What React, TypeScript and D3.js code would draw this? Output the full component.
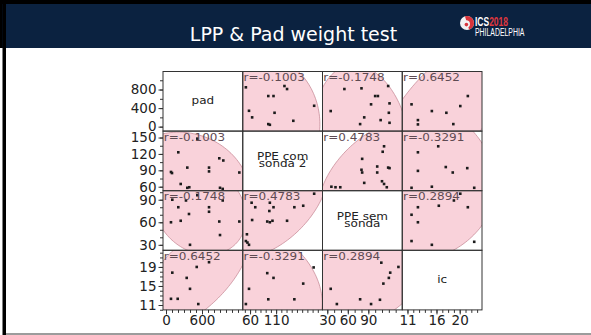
import React, { useEffect, useRef } from "react";
import * as d3 from "d3";

// variables of the scatter matrix (diagonal labels)
const diagLabels = [["pad"], ["PPE com", "sonda 2"], ["PPE sem", "sonda"], ["ic"]];

// axis extents per variable (columns use x, rows use y)
const xDomains = [[-50, 1279], [46, 199], [23, 139.6], [10.1, 23.84]];
const yDomains = [[-96, 1189], [52.7, 161.8], [22.7, 102], [9.97, 22.5]];

const xTickLabels = [[0, 600], [60, 110], [30, 60, 90], [11, 16, 20]];
const xMinorStep = [100, 10, 10, 1];
const yTickLabels = [[0, 400, 800], [60, 90, 120, 150], [30, 60, 90], [11, 15, 19]];
const yMinorStep = [200, 15, 10, 1];

// pearson r shown in the off-diagonal panels
const corr = [
  [null, -0.1003, -0.1748, 0.6452],
  [-0.1003, null, 0.4783, -0.3291],
  [-0.1748, 0.4783, null, 0.2894],
  [0.6452, -0.3291, 0.2894, null],
];

// points per panel, [x, y] in data units (row-col)
const pts12 = [[52, 848], [95, 660], [105, 660], [126, 876], [131, 811], [183, 450], [58, 342], [64, 200], [107, 299], [143, 126], [95, 55], [98, 40]];
const pts13 = [[55, 811], [80, 826], [119, 876], [100, 660], [104, 660], [94, 481], [121, 502], [35, 336], [120, 299], [84, 200], [108, 141], [78, 55], [121, 83]];
const pts14 = [[11.7, 481], [15.2, 336], [17.7, 299], [20.1, 444], [21.4, 660], [12.8, 141], [12.8, 48], [18.9, 55]];
const pts21 = [[205, 123], [83, 87], [100, 85], [355, 95], [522, 148], [717, 95], [717, 88], [888, 112], [955, 108], [245, 65], [355, 58], [388, 59], [900, 58], [945, 56], [1222, 86]];
const pts23 = [[113, 134], [111, 124], [81, 111], [103, 97], [119, 95], [121, 94], [80, 91], [81, 86], [103, 86], [84, 67], [110, 70], [113, 65], [117, 59], [36, 60], [42, 59], [49, 59]];
const pts24 = [[16.3, 134], [12.8, 123], [17.6, 96], [18.8, 86], [21.3, 94], [12.8, 89], [11.7, 58], [15.2, 60], [22.5, 58]];
const pts31 = [[105, 90], [205, 80], [333, 89], [522, 96], [717, 80], [717, 74], [945, 89], [383, 71], [83, 60], [245, 62], [888, 61], [1222, 61], [900, 43], [400, 30]];
const pts32 = [[183, 98], [63, 86], [70, 80], [98, 86], [105, 80], [97, 75], [145, 80], [162, 82], [64, 63], [93, 61], [98, 60], [103, 62], [131, 62], [54, 44], [52, 35], [55, 33], [58, 30]];
const pts34 = [[20.1, 98], [16.4, 82], [19, 89], [21.4, 80], [12.8, 80], [11.7, 70], [12.8, 60], [11.7, 35], [15.2, 30], [22.5, 34]];
const pts41 = [[105, 17.8], [345, 16.7], [400, 14.4], [512, 19], [717, 20], [83, 12.3], [195, 12.3], [538, 11.2]];
const pts42 = [[93, 17.7], [105, 16.7], [182, 18.9], [162, 15.5], [58, 14.4], [95, 12.2], [145, 12.2], [52, 11.2]];
const pts43 = [[109, 19.9], [134, 19], [122, 17.8], [120, 16.7], [112, 15.5], [35, 14.4], [78, 12.2], [94, 11.2], [44, 11.2], [107, 12.1]];

// data ellipses: [meanX, meanY, halfWidthX, halfWidthY]
const ell12 = [102, 185, 92, 1296];
const ell13 = [81, -291, 70, 1620];
const ell14 = [17.5, 357, 11.2, 1512];
const ell21 = [317, 54.5, 1083, 105.4];
const ell23 = [104.5, 72.7, 87.8, 109];
const ell24 = [16.65, 100, 9.48, 109];
const ell31 = [567, 76.7, 767, 60];
const ell32 = [98.5, 90, 111.5, 77.3];
const ell34 = [15.8, 83.3, 10.3, 73.3];
const ell41 = [483, 17.34, 917, 11.6];
const ell42 = [98.5, 15.24, 100, 11.6];
const ell43 = [81, 17.97, 95, 11.6];

const panelPoints = {
  "0-1": pts12, "0-2": pts13, "0-3": pts14,
  "1-0": pts21, "1-2": pts23, "1-3": pts24,
  "2-0": pts31, "2-1": pts32, "2-3": pts34,
  "3-0": pts41, "3-1": pts42, "3-2": pts43,
};
const panelEllipses = {
  "0-1": ell12, "0-2": ell13, "0-3": ell14,
  "1-0": ell21, "1-2": ell23, "1-3": ell24,
  "2-0": ell31, "2-1": ell32, "2-3": ell34,
  "3-0": ell41, "3-1": ell42, "3-2": ell43,
};

const W = 591;
const H = 335;
const font = "DejaVu Sans, Verdana, sans-serif";

const App = () => {
  const ref = useRef<SVGSVGElement>(null);

  useEffect(() => {
    const svg = d3.select(ref.current);
    svg.selectAll("*").remove();

    // slide frame
    svg.append("rect").attr("width", W).attr("height", H).attr("fill", "#fff");
    svg.append("rect").attr("x", 0).attr("y", 0).attr("width", W).attr("height", 48).attr("fill", "#0b2240");
    svg.append("rect").attr("x", 0).attr("y", 0).attr("width", W).attr("height", 4).attr("fill", "#000");
    svg.append("rect").attr("x", 2.5).attr("y", 0).attr("width", 3.5).attr("height", H).attr("fill", "#000");
    svg.append("rect").attr("x", 0).attr("y", 0).attr("width", 2.5).attr("height", 48).attr("fill", "#000");
    svg.append("rect").attr("x", 6).attr("y", 333).attr("width", W).attr("height", 2).attr("fill", "#9c9c9c");

    svg
      .append("text")
      .attr("x", 293.5)
      .attr("y", 41)
      .attr("text-anchor", "middle")
      .attr("font-family", font)
      .attr("font-size", 19)
      .attr("fill", "#fff")
      .text("LPP & Pad weight test");

    // ICS logo
    const logo = svg.append("g").attr("transform", "translate(467,23)");
    logo.append("circle").attr("r", 7).attr("fill", "#f2f2f2");
    logo.append("path").attr("d", d3.arc()({ innerRadius: 0, outerRadius: 7, startAngle: -0.3, endAngle: Math.PI * 0.9 }) as string).attr("fill", "#d8343b");
    logo.append("circle").attr("cx", -0.8).attr("cy", 1).attr("r", 3.8).attr("fill", "#f2f2f2");
    logo.append("circle").attr("cx", -0.6).attr("cy", 1.6).attr("r", 1.8).attr("fill", "#d8343b");
    const ics = logo
      .append("text")
      .attr("transform", "translate(8,3.3) scale(0.68,1)")
      .attr("font-family", "Liberation Sans, Arial, sans-serif")
      .attr("font-size", 12.5)
      .attr("font-weight", "bold");
    ics.append("tspan").attr("fill", "#fff").text("ICS");
    ics.append("tspan").attr("fill", "#e0383e").text("2018");
    logo
      .append("text")
      .attr("transform", "translate(8,13) scale(0.6,1)")
      .attr("font-family", "Liberation Sans, Arial, sans-serif")
      .attr("font-size", 11.5)
      .attr("fill", "#fff")
      .text("PHILADELPHIA");

    // grid geometry
    const left = 163;
    const top = 71.5;
    const cw = 79.75;
    const ch = 59.6;
    const n = 4;

    const xs = xDomains.map((d, j) =>
      d3.scaleLinear().domain(d).range([left + j * cw, left + (j + 1) * cw])
    );
    const ys = yDomains.map((d, i) =>
      d3.scaleLinear().domain(d).range([top + (i + 1) * ch, top + i * ch])
    );

    const defs = svg.append("defs");
    const plot = svg.append("g");

    for (let i = 0; i < n; i++) {
      for (let j = 0; j < n; j++) {
        const x0 = left + j * cw;
        const y0 = top + i * ch;
        const id = `clip-${i}-${j}`;
        defs.append("clipPath").attr("id", id).append("rect").attr("x", x0).attr("y", y0).attr("width", cw).attr("height", ch);

        const cell = plot.append("g").attr("clip-path", `url(#${id})`);

        if (i === j) {
          const lines = diagLabels[i];
          const cx = x0 + cw / 2;
          const cy = y0 + ch / 2;
          lines.forEach((t, k) => {
            cell
              .append("text")
              .attr("transform", `translate(${cx},${lines.length === 1 ? cy + 2.5 : cy - 0.5 + k * 7}) scale(1.2,1)`)
              .attr("text-anchor", "middle")
              .attr("font-family", font)
              .attr("font-size", 10)
              .attr("fill", "#222")
              .text(t);
          });
          continue;
        }

        const key = `${i}-${j}`;
        const x = xs[j];
        const y = ys[i];
        const r = corr[i][j] as number;
        const [mx, my, hx, hy] = panelEllipses[key];

        const ring = d3.range(0, 145).map((k) => {
          const t = (k / 144) * 2 * Math.PI;
          const ex = mx + hx * Math.cos(t);
          const ey = my + hy * (r * Math.cos(t) + Math.sqrt(1 - r * r) * Math.sin(t));
          return [x(ex), y(ey)] as [number, number];
        });

        cell
          .append("path")
          .attr("d", d3.line().curve(d3.curveLinearClosed)(ring))
          .attr("fill", "#f9d2da")
          .attr("stroke", "#c98e9a")
          .attr("stroke-width", 0.8);

        cell
          .selectAll("rect.pt")
          .data(panelPoints[key])
          .join("rect")
          .attr("class", "pt")
          .attr("x", (d) => x(d[0]) - 1.3)
          .attr("y", (d) => y(d[1]) - 1.3)
          .attr("width", 2.6)
          .attr("height", 2.6)
          .attr("fill", "#1b1b1b");

        cell
          .append("text")
          .attr("transform", `translate(${x0 + 0.8},${y0 + 9.5}) scale(1.2,1)`)
          .attr("font-family", font)
          .attr("font-size", 10)
          .attr("fill", "#5e4a52")
          .text(`r=${r.toFixed(4)}`);
      }
    }

    // cell borders
    for (let i = 0; i < n; i++) {
      for (let j = 0; j < n; j++) {
        plot
          .append("rect")
          .attr("x", left + j * cw)
          .attr("y", top + i * ch)
          .attr("width", cw)
          .attr("height", ch)
          .attr("fill", "none")
          .attr("stroke", "#333")
          .attr("stroke-width", 1);
      }
    }

    const styleAxis = (g) => {
      g.select(".domain").remove();
      g.selectAll("line").attr("stroke", "#333");
      g.selectAll("text")
        .attr("font-family", font)
        .attr("font-size", 13.5)
        .attr("fill", "#222");
    };

    // left axes
    ys.forEach((y, i) => {
      const [d0, d1] = yDomains[i];
      const step = yMinorStep[i];
      const minor = d3.range(Math.ceil(d0 / step) * step, d1, step);
      svg
        .append("g")
        .attr("transform", `translate(${left},0)`)
        .call(d3.axisLeft(y).tickValues(minor).tickSize(3).tickFormat(() => ""))
        .call(styleAxis);
      svg
        .append("g")
        .attr("transform", `translate(${left},0)`)
        .call(d3.axisLeft(y).tickValues(yTickLabels[i]).tickSize(4.5).tickPadding(2))
        .call(styleAxis);
    });

    // bottom axes
    const bottom = top + n * ch;
    xs.forEach((x, j) => {
      const [d0, d1] = xDomains[j];
      const step = xMinorStep[j];
      const minor = d3.range(Math.ceil(d0 / step) * step, d1, step);
      svg
        .append("g")
        .attr("transform", `translate(0,${bottom})`)
        .call(d3.axisBottom(x).tickValues(minor).tickSize(3).tickFormat(() => ""))
        .call(styleAxis);
      svg
        .append("g")
        .attr("transform", `translate(0,${bottom})`)
        .call(d3.axisBottom(x).tickValues(xTickLabels[j]).tickSize(4.5).tickPadding(1.5))
        .call(styleAxis);
    });
  }, []);

  return (
    <svg
      ref={ref}
      width={W}
      height={H}
      style={{ position: "absolute", left: 0, top: 0, display: "block" }}
    />
  );
};

export default App;
